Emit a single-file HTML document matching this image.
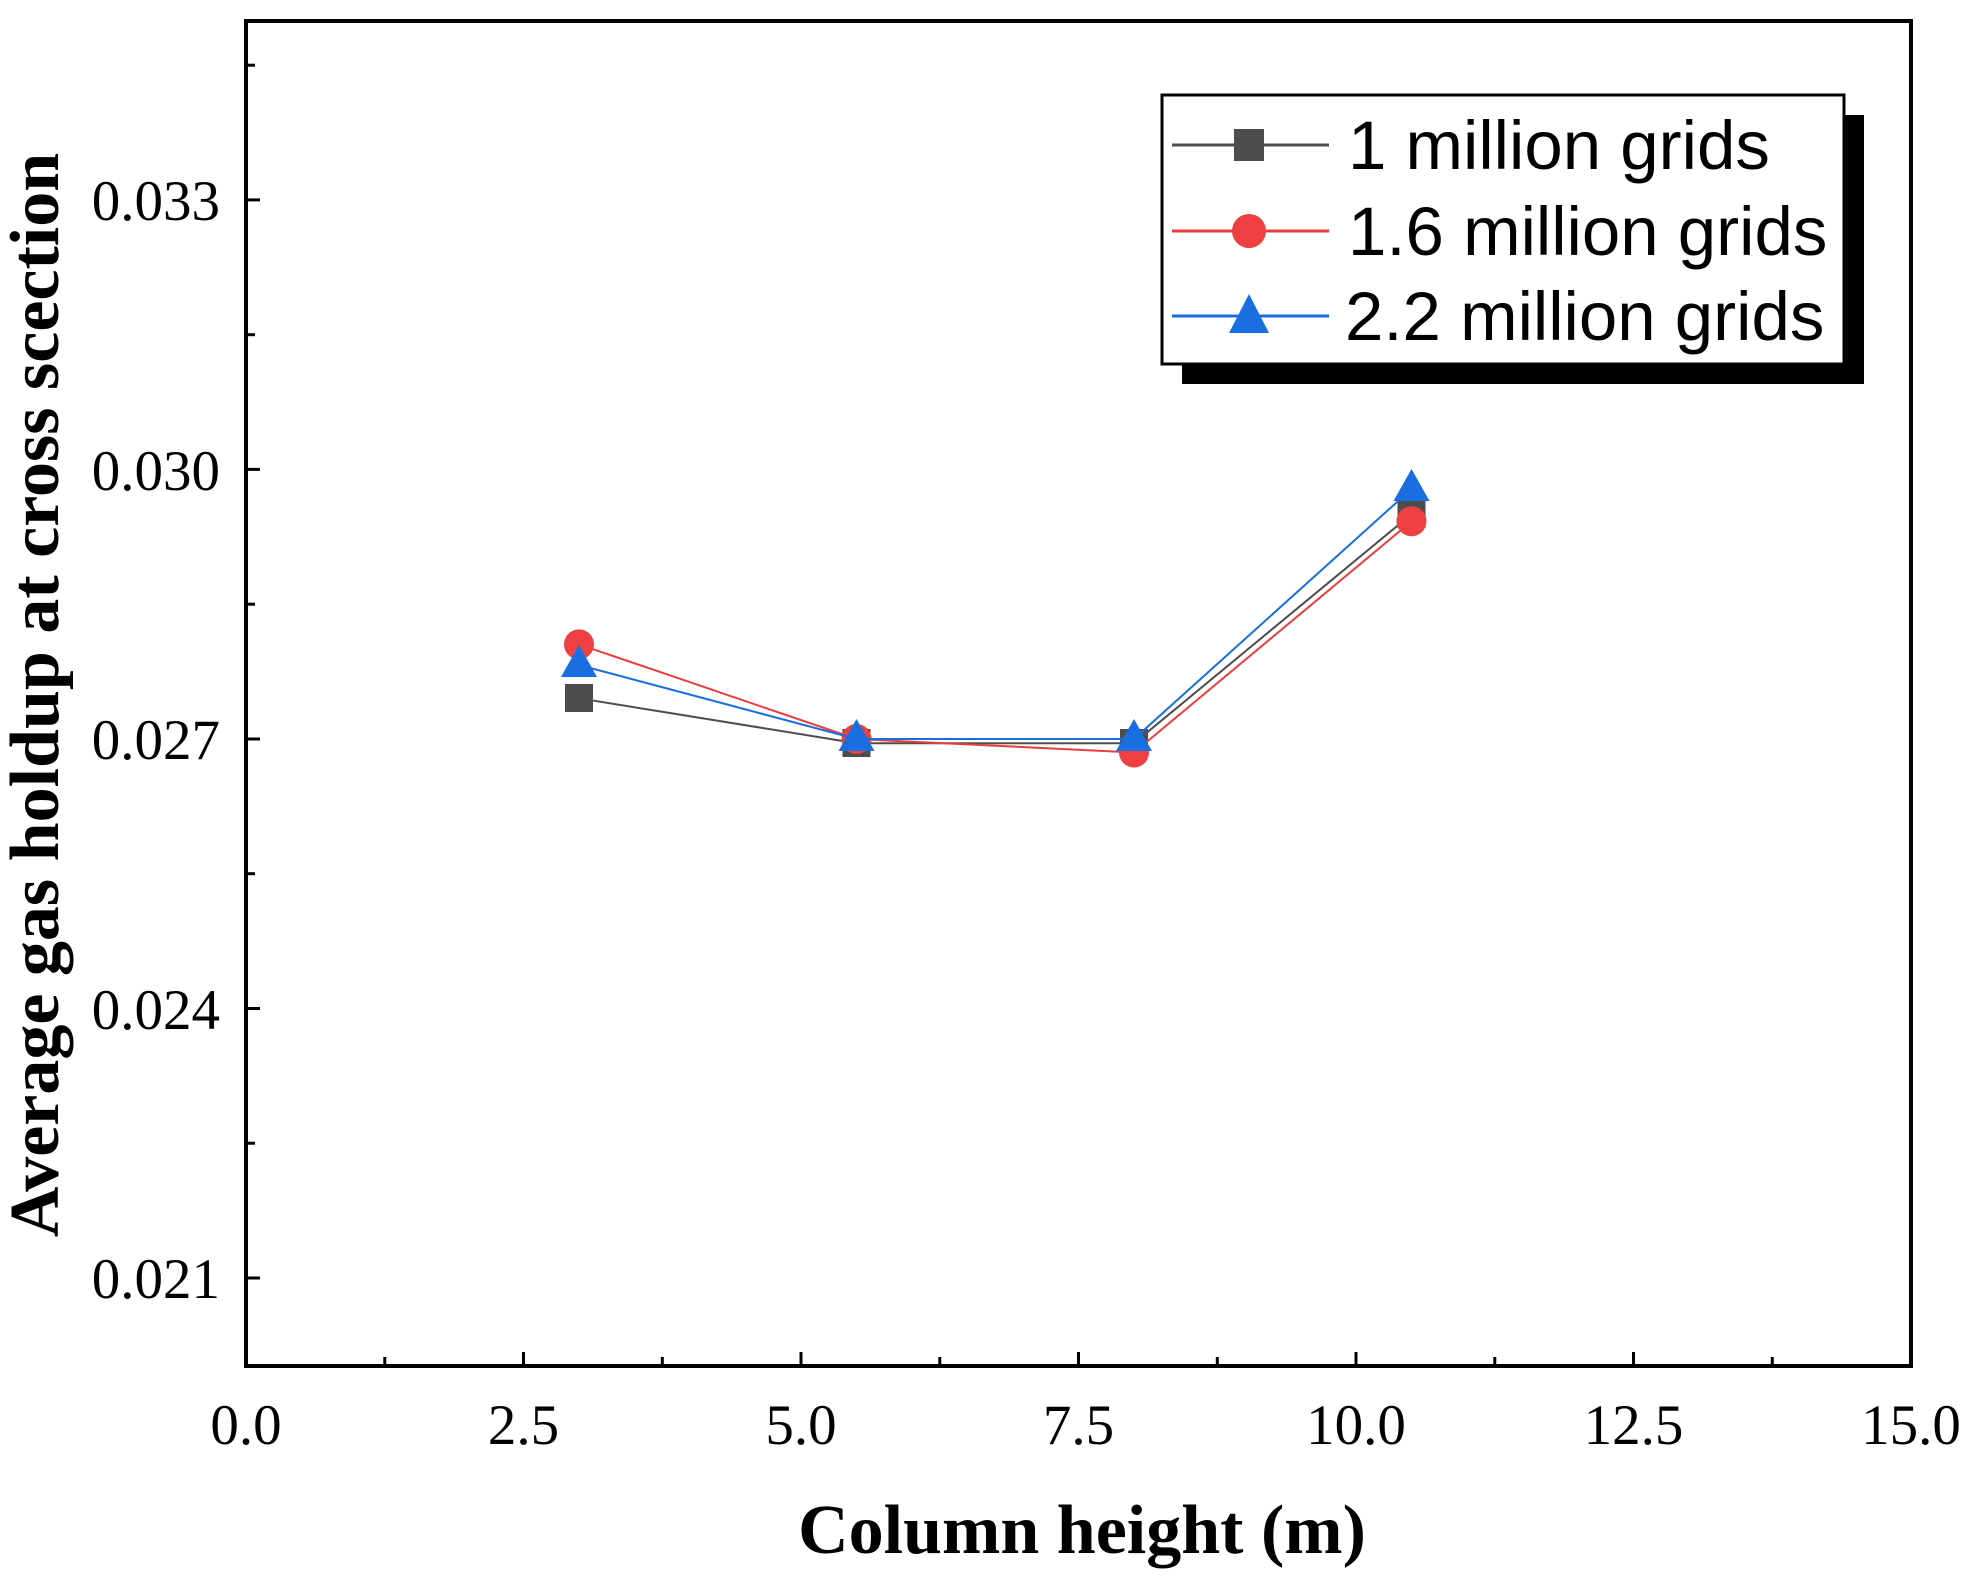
<!DOCTYPE html>
<html><head><meta charset="utf-8"><style>body{margin:0;background:#fff}</style></head><body>
<svg width="1974" height="1578" xmlns="http://www.w3.org/2000/svg">
<g stroke="#000" stroke-width="3">
<line x1="246" y1="1366" x2="246" y2="1352"/>
<line x1="384.8" y1="1366" x2="384.8" y2="1357"/>
<line x1="523.5" y1="1366" x2="523.5" y2="1352"/>
<line x1="662.3" y1="1366" x2="662.3" y2="1357"/>
<line x1="801" y1="1366" x2="801" y2="1352"/>
<line x1="939.8" y1="1366" x2="939.8" y2="1357"/>
<line x1="1078.5" y1="1366" x2="1078.5" y2="1352"/>
<line x1="1217.3" y1="1366" x2="1217.3" y2="1357"/>
<line x1="1356" y1="1366" x2="1356" y2="1352"/>
<line x1="1494.8" y1="1366" x2="1494.8" y2="1357"/>
<line x1="1633.5" y1="1366" x2="1633.5" y2="1352"/>
<line x1="1772.3" y1="1366" x2="1772.3" y2="1357"/>
<line x1="246" y1="1278" x2="260" y2="1278"/>
<line x1="246" y1="1143.2" x2="255" y2="1143.2"/>
<line x1="246" y1="1008.5" x2="260" y2="1008.5"/>
<line x1="246" y1="873.7" x2="255" y2="873.7"/>
<line x1="246" y1="739" x2="260" y2="739"/>
<line x1="246" y1="604.2" x2="255" y2="604.2"/>
<line x1="246" y1="469.4" x2="260" y2="469.4"/>
<line x1="246" y1="334.7" x2="255" y2="334.7"/>
<line x1="246" y1="199.9" x2="260" y2="199.9"/>
<line x1="246" y1="65.2" x2="255" y2="65.2"/>
</g>
<rect x="246" y="21" width="1665" height="1345" fill="none" stroke="#000" stroke-width="4"/>
<g font-family="Liberation Serif, serif" font-size="57" fill="#000">
<g text-anchor="end">
<text x="220" y="1298">0.021</text>
<text x="220" y="1029">0.024</text>
<text x="220" y="759">0.027</text>
<text x="220" y="490">0.030</text>
<text x="220" y="220">0.033</text>
</g>
<g text-anchor="middle">
<text x="246" y="1444">0.0</text>
<text x="523.5" y="1444">2.5</text>
<text x="801" y="1444">5.0</text>
<text x="1078.5" y="1444">7.5</text>
<text x="1356" y="1444">10.0</text>
<text x="1633.5" y="1444">12.5</text>
<text x="1911" y="1444">15.0</text>
</g>
</g>
<text x="1082" y="1553" text-anchor="middle" font-family="Liberation Serif, serif" font-weight="bold" font-size="70">Column height (m)</text>
<text transform="translate(58,695) rotate(-90)" text-anchor="middle" font-family="Liberation Serif, serif" font-weight="bold" font-size="70">Average gas holdup at cross scection</text>
<polyline fill="none" stroke="#4d4d4d" stroke-width="2" points="579,698.3 856.5,743.2 1134,743.2 1411.5,514.2"/>
<g fill="#4d4d4d">
<rect x="565" y="684" width="28" height="28"/><rect x="842.5" y="729" width="28" height="28"/><rect x="1120" y="729" width="28" height="28"/><rect x="1397.5" y="500" width="28" height="28"/>
</g>
<polyline fill="none" stroke="#ee3b3b" stroke-width="2" points="579,644.4 856.5,739 1134,752.5 1411.5,521.3"/>
<g fill="#ee4040">
<circle cx="579" cy="644.4" r="15"/><circle cx="856.5" cy="739" r="15"/><circle cx="1134" cy="752.5" r="15"/><circle cx="1411.5" cy="521.3" r="15"/>
</g>
<polyline fill="none" stroke="#1a6fe0" stroke-width="2" points="579,665 856.5,739 1134,739 1411.5,489"/>
<g fill="#1a6fe0">
<polygon points="579,645 561,677 597,677"/><polygon points="856.5,719 838.5,751 874.5,751"/><polygon points="1134,719 1116,751 1152,751"/><polygon points="1411.5,469 1393.5,501 1429.5,501"/>
</g>
<rect x="1182" y="115" width="682" height="269" fill="#000"/>
<rect x="1162" y="95" width="682" height="269" fill="#fff" stroke="#000" stroke-width="3"/>
<line x1="1172" y1="145" x2="1329" y2="145" stroke="#4d4d4d" stroke-width="3"/>
<rect x="1234" y="129" width="30" height="32" fill="#4d4d4d"/>
<line x1="1172" y1="231" x2="1329" y2="231" stroke="#ee3b3b" stroke-width="3"/>
<ellipse cx="1249" cy="231" rx="17" ry="17" fill="#ee4040"/>
<line x1="1172" y1="316" x2="1329" y2="316" stroke="#1a6fe0" stroke-width="3"/>
<polygon points="1249,294 1229,333 1269,333" fill="#1a6fe0"/>
<g font-family="Liberation Sans, sans-serif" font-size="69" fill="#000">
<text x="1348" y="169">1 million grids</text>
<text x="1348" y="255">1.6 million grids</text>
<text x="1345" y="340">2.2 million grids</text>
</g>
</svg>
</body></html>
